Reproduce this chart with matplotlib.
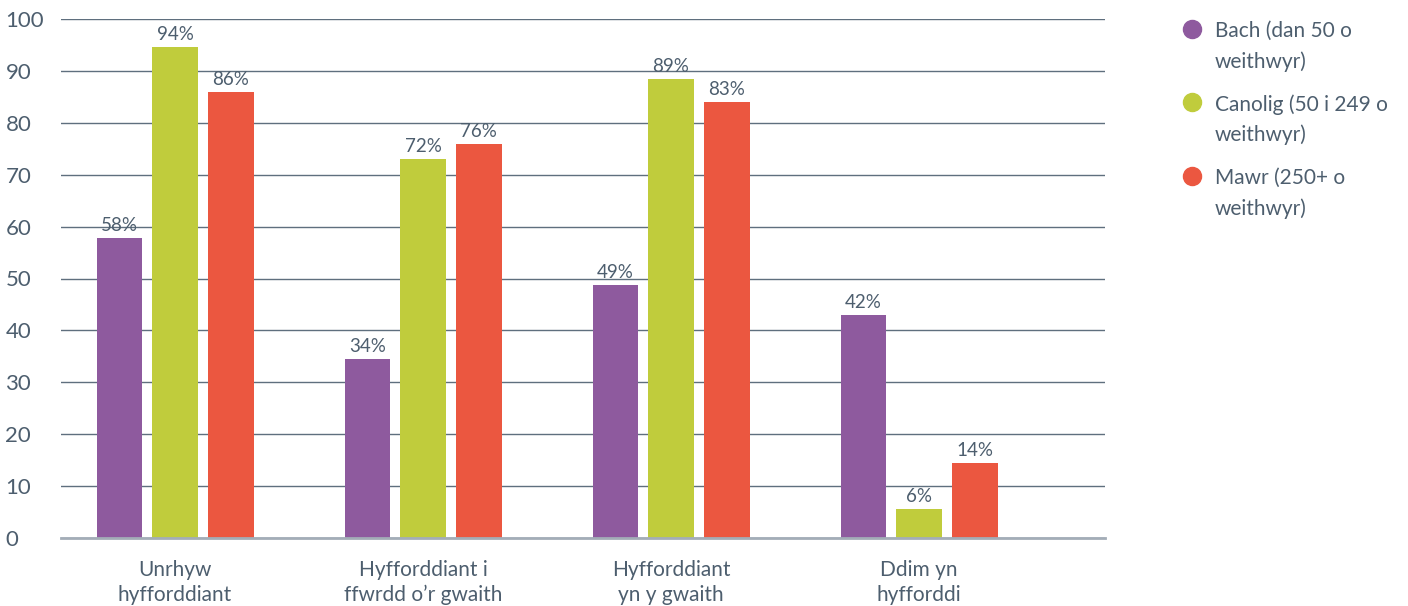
import numpy as np
import matplotlib.pyplot as plt
from matplotlib.lines import Line2D

plt.rcParams['font.family'] = ['Lato', 'DejaVu Sans']

categories = ['Unrhyw\nhyfforddiant', 'Hyfforddiant i\nffwrdd o\u2019r gwaith',
              'Hyfforddiant\nyn y gwaith', 'Ddim yn\nhyfforddi']
series = ['Bach (dan 50 o\nweithwyr)', 'Canolig (50 i 249 o\nweithwyr)', 'Mawr (250+ o\nweithwyr)']
# bar heights as drawn, and the printed labels
bach = [57.8, 34.5, 48.7, 43.0]
canolig = [94.6, 73.0, 88.5, 5.6]
mawr = [85.9, 75.9, 84.0, 14.5]
bach_lbl = ['58%', '34%', '49%', '42%']
canolig_lbl = ['94%', '72%', '89%', '6%']
mawr_lbl = ['86%', '76%', '83%', '14%']
yticks = [0, 10, 20, 30, 40, 50, 60, 70, 80, 90, 100]

colors = ['#8e5a9e', '#c0cc3c', '#eb5740']
txt = '#4d5e6e'

fig = plt.figure(figsize=(14.08, 6.06), dpi=100)
ax = fig.add_axes([61/1408, 1-538/606, (1105-61)/1408, (538-19)/606])

x = np.arange(len(categories))
w = 0.185
step = 0.224
for i, (vals, lbls) in enumerate([(bach, bach_lbl), (canolig, canolig_lbl), (mawr, mawr_lbl)]):
    bars = ax.bar(x + (i-1)*step, vals, w, color=colors[i], zorder=3)
    ax.bar_label(bars, labels=lbls, padding=3, fontsize=13.5, color=txt)

ax.set_xlim(-0.46, 3.75)
ax.set_ylim(0, 100)
ax.set_yticks(yticks)
ax.set_xticks(x)
ax.set_xticklabels(categories, fontsize=15, color=txt, linespacing=1.3)
for t in ax.get_yticklabels():
    t.set_ha('left')
ax.tick_params(axis='y', length=0, pad=40, labelsize=16, labelcolor=txt)
ax.tick_params(axis='x', length=0, pad=16)
ax.grid(axis='y', color='#5f6f7e', linewidth=1, zorder=0)
for s in ['top', 'right', 'left']:
    ax.spines[s].set_visible(False)
ax.spines['bottom'].set_color('#a3adb7')
ax.spines['bottom'].set_linewidth(2)
ax.spines['bottom'].set_zorder(4)

# legend drawn by hand so the dot sits on the first line
ys = [29, 102, 176]
for c, lab, yp in zip(colors, series, ys):
    fig.add_artist(Line2D([1192/1408], [1-yp/606], marker='o', markersize=13,
                          color=c, transform=fig.transFigure))
    fig.text(1215/1408, 1-(yp-8)/606, lab, fontsize=15, color=txt, va='top',
             linespacing=1.6)

fig.savefig('out.png', dpi=100)
